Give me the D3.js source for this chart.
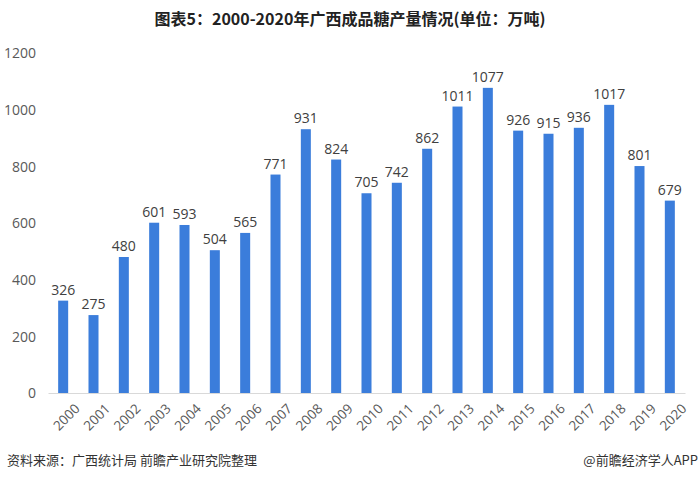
<!DOCTYPE html>
<html><head><meta charset="utf-8">
<script src="https://cdn.jsdelivr.net/npm/d3@7"></script>
<style>body{margin:0;background:#fff}svg{display:block}</style>
</head><body>
<svg id="c" width="700" height="482"></svg>
<script>
const years = ["2000","2001","2002","2003","2004","2005","2006","2007","2008","2009","2010","2011","2012","2013","2014","2015","2016","2017","2018","2019","2020"];
const output = [326,275,480,601,593,504,565,771,931,824,705,742,862,1011,1077,926,915,936,1017,801,679];
const yTicks = [0,200,400,600,800,1000,1200];
const title = "图表5：2000-2020年广西成品糖产量情况(单位：万吨)";
const source = "资料来源：广西统计局 前瞻产业研究院整理";
const credit = "@前瞻经济学人APP";

const svg = d3.select("#c");
const font = "'Noto Sans CJK SC','Noto Sans',sans-serif";
const x = d3.scaleBand().domain(years).range([48,685]).paddingInner(0.67).paddingOuter(0.335);
const y = d3.scaleLinear().domain([0,1200]).range([393,53]);

svg.append("text").attr("x",350).attr("y",25).attr("text-anchor","middle")
  .attr("font-family",font).attr("font-weight","bold").attr("font-size",16).attr("fill","#222").text(title);

const ya = svg.append("g").attr("transform","translate(36,0)")
  .call(d3.axisLeft(y).tickValues(yTicks).tickFormat(d3.format("d")).tickSize(0).tickPadding(0));
ya.select(".domain").remove();
ya.selectAll("text").attr("font-family","'Open Sans',sans-serif").attr("font-size",14).attr("fill","#595959").attr("dy","0.35em");

const xa = svg.append("g").attr("transform","translate(0,393)")
  .call(d3.axisBottom(x).tickSize(0).tickPadding(6));
xa.select(".domain").attr("stroke","#d9d9d9");
xa.selectAll("text").attr("font-family","'Open Sans',sans-serif").attr("font-size",13.5).attr("fill","#595959")
  .attr("text-anchor","end").attr("dy","0.35em")
  .attr("transform","translate(10,9) rotate(-45)");

svg.append("g").selectAll("rect").data(output).join("rect")
  .attr("x",(d,i)=>x(years[i])).attr("width",x.bandwidth())
  .attr("y",d=>y(d)).attr("height",d=>y(0)-y(d)).attr("fill","#3b7ddb");

svg.append("g").selectAll("text").data(output).join("text")
  .attr("x",(d,i)=>x(years[i])+x.bandwidth()/2).attr("y",d=>y(d)-6)
  .attr("text-anchor","middle").attr("font-family","'Open Sans',sans-serif").attr("font-size",14).attr("fill","#404040")
  .text(d=>d);

svg.append("text").attr("x",7).attr("y",465).attr("font-family",font).attr("font-size",13).attr("fill","#333").text(source);
svg.append("text").attr("x",698).attr("y",465).attr("text-anchor","end").attr("font-family",font).attr("font-size",13).attr("fill","#333").text(credit);
</script>
</body></html>
